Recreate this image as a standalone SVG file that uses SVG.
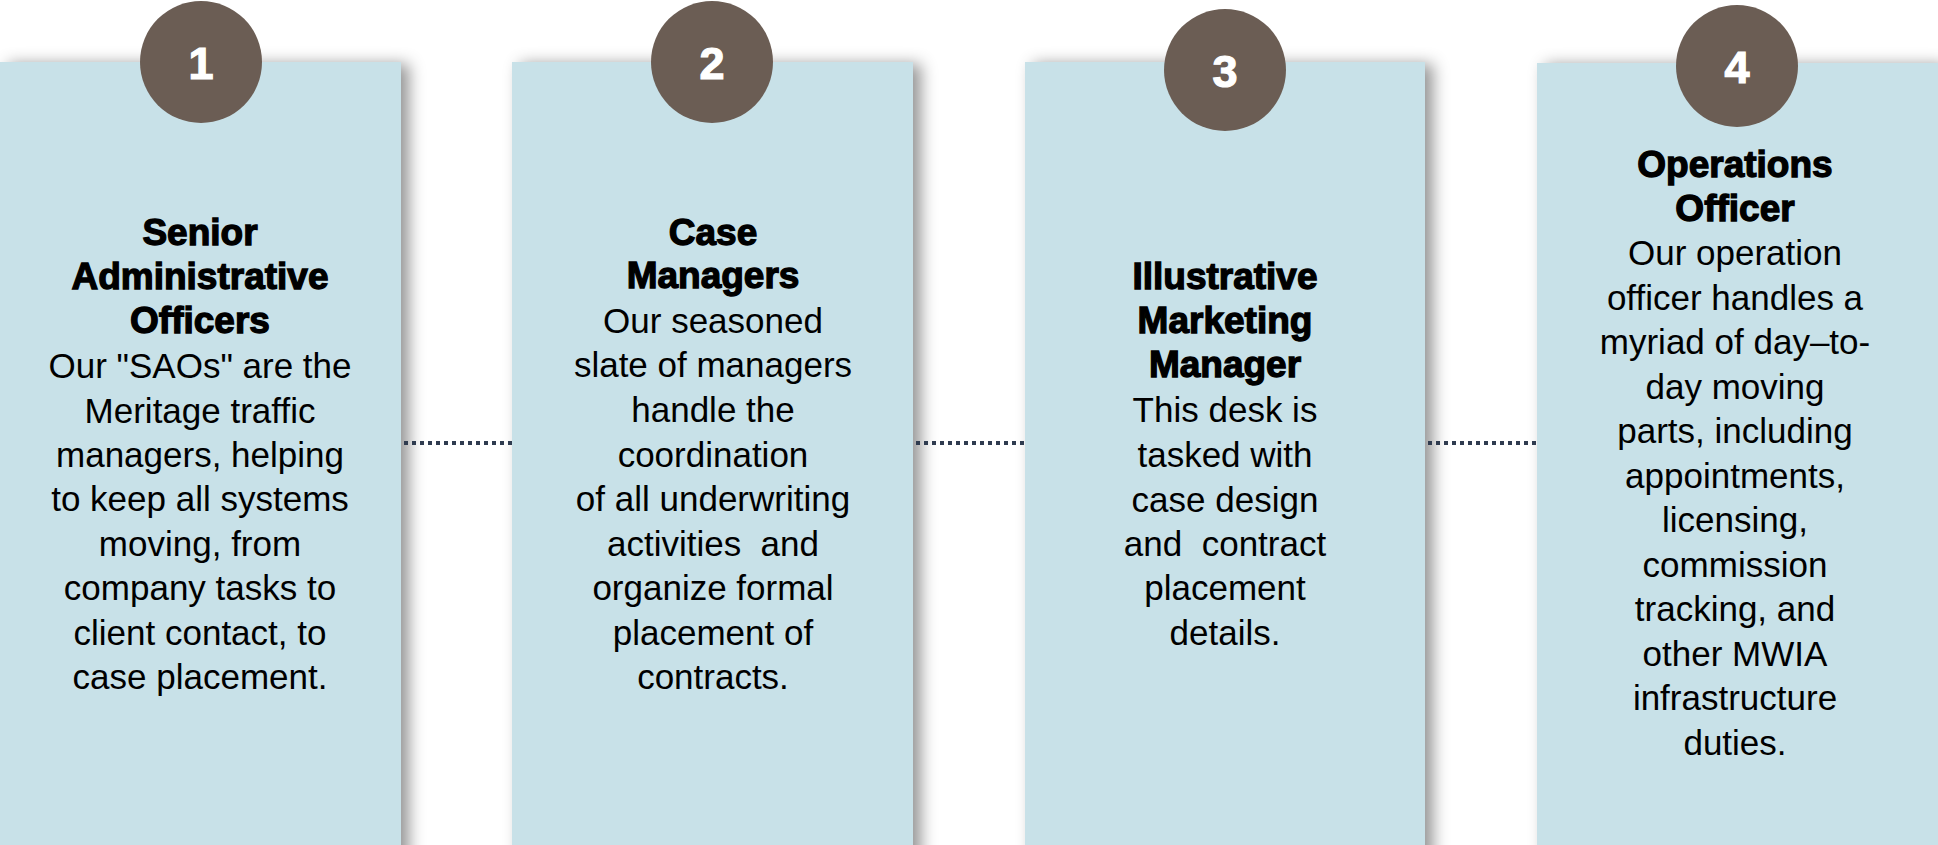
<svg xmlns="http://www.w3.org/2000/svg" width="1938" height="845" viewBox="0 0 1938 845">
<defs>
<filter id="sh" x="-10%" y="-10%" width="125%" height="120%">
<feDropShadow dx="8" dy="2" stdDeviation="8" flood-color="#000" flood-opacity="0.42"/>
</filter>
<style>
.box{fill:#C8E1E8;filter:url(#sh)}
.badge{fill:#6B5D54}
.num{font-family:"Liberation Sans",Arial,sans-serif;font-weight:bold;font-size:45px;fill:#fff;text-anchor:middle;stroke:#fff;stroke-width:1.2}
.title{font-family:"Liberation Sans",Arial,sans-serif;font-weight:bold;font-size:37px;fill:#000;text-anchor:middle;stroke:#000;stroke-width:1.3}
.body{font-family:"Liberation Sans",Arial,sans-serif;font-size:35px;fill:#000;text-anchor:middle}
.conn{stroke:#2F3B4F;stroke-width:4;stroke-dasharray:4 4;fill:none}
</style>
</defs>
<rect width="1938" height="845" fill="#fff"/>
<g id="boxes">
<rect class="box" x="0" y="62" width="401" height="800"/>
<rect class="box" x="512" y="62" width="401" height="800"/>
<rect class="box" x="1025" y="62" width="400" height="800"/>
<rect class="box" x="1537" y="63" width="401" height="800"/>
</g>
<g id="connectors">
<line class="conn" x1="404" y1="443" x2="512" y2="443"/>
<line class="conn" x1="916" y1="443" x2="1025" y2="443"/>
<line class="conn" x1="1428" y1="443" x2="1537" y2="443"/>
</g>
<g id="node1">
<circle class="badge" cx="201" cy="62" r="61"/>
<text class="num" x="201" y="79">1</text>
<text class="title" x="200" y="245">Senior</text>
<text class="title" x="200" y="289">Administrative</text>
<text class="title" x="200" y="333">Officers</text>
<text class="body" x="200" y="378">Our "SAOs" are the</text>
<text class="body" x="200" y="423">Meritage traffic</text>
<text class="body" x="200" y="467">managers, helping</text>
<text class="body" x="200" y="511">to keep all systems</text>
<text class="body" x="200" y="556">moving, from</text>
<text class="body" x="200" y="600">company tasks to</text>
<text class="body" x="200" y="645">client contact, to</text>
<text class="body" x="200" y="689">case placement.</text>
</g>
<g id="node2">
<circle class="badge" cx="712" cy="62" r="61"/>
<text class="num" x="712" y="79">2</text>
<text class="title" x="713" y="245">Case</text>
<text class="title" x="713" y="288">Managers</text>
<text class="body" x="713" y="333">Our seasoned</text>
<text class="body" x="713" y="377">slate of managers</text>
<text class="body" x="713" y="422">handle the</text>
<text class="body" x="713" y="467">coordination</text>
<text class="body" x="713" y="511">of all underwriting</text>
<text class="body" x="713" y="556">activities&#160; and</text>
<text class="body" x="713" y="600">organize formal</text>
<text class="body" x="713" y="645">placement of</text>
<text class="body" x="713" y="689">contracts.</text>
</g>
<g id="node3">
<circle class="badge" cx="1225" cy="70" r="61"/>
<text class="num" x="1225" y="87">3</text>
<text class="title" x="1225" y="289">Illustrative</text>
<text class="title" x="1225" y="333">Marketing</text>
<text class="title" x="1225" y="377">Manager</text>
<text class="body" x="1225" y="422">This desk is</text>
<text class="body" x="1225" y="467">tasked with</text>
<text class="body" x="1225" y="512">case design</text>
<text class="body" x="1225" y="556">and&#160; contract</text>
<text class="body" x="1225" y="600">placement</text>
<text class="body" x="1225" y="645">details.</text>
</g>
<g id="node4">
<circle class="badge" cx="1737" cy="66" r="61"/>
<text class="num" x="1737" y="83">4</text>
<text class="title" x="1735" y="177">Operations</text>
<text class="title" x="1735" y="221">Officer</text>
<text class="body" x="1735" y="265">Our operation</text>
<text class="body" x="1735" y="310">officer handles a</text>
<text class="body" x="1735" y="354">myriad of day–to-</text>
<text class="body" x="1735" y="399">day moving</text>
<text class="body" x="1735" y="443">parts, including</text>
<text class="body" x="1735" y="488">appointments,</text>
<text class="body" x="1735" y="532">licensing,</text>
<text class="body" x="1735" y="577">commission</text>
<text class="body" x="1735" y="621">tracking, and</text>
<text class="body" x="1735" y="666">other MWIA</text>
<text class="body" x="1735" y="710">infrastructure</text>
<text class="body" x="1735" y="755">duties.</text>
</g>
</svg>
